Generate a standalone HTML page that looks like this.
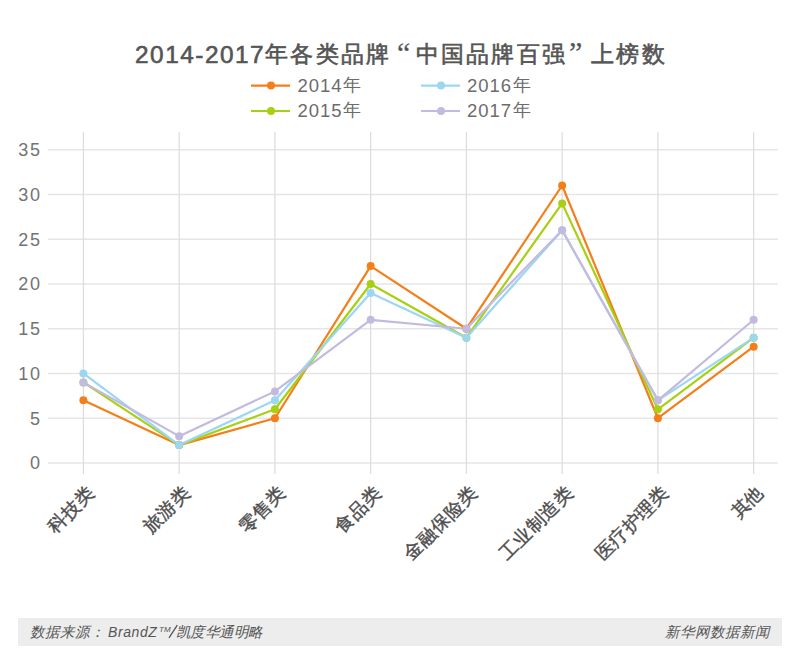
<!DOCTYPE html>
<html><head><meta charset="utf-8"><style>
html,body{margin:0;padding:0;background:#fff;width:800px;height:664px;overflow:hidden}
svg{position:absolute;left:0;top:0}
text{font-family:"Liberation Sans",sans-serif}
.title{font-size:23px;letter-spacing:2.3px;fill:#555;stroke:#555;stroke-width:0.6px}
.q{font-family:"Liberation Serif",serif;font-size:30px;stroke-width:0.2px}
.td{font-size:24.4px;letter-spacing:1.5px}
.yl{font-size:18px;fill:#737373;letter-spacing:1.6px}
.lg{font-size:18px;fill:#6c6c6c}
.lgd{font-size:18.5px;letter-spacing:1.0px}
.xl{font-size:18.5px;fill:#4d4d4d;stroke:#4d4d4d;stroke-width:0.4px}
.ft{font-size:14.5px;fill:#555;font-style:italic}
.ft2{font-size:14.5px}
.br{font-size:14px;letter-spacing:0.6px}
.tm{font-size:8px}
</style></head><body>
<svg width="800" height="664" viewBox="0 0 800 664">
<text class="title"><tspan x="135" y="63" class="td">2014-2017</tspan><tspan x="265" y="62">年各类品牌</tspan><tspan x="397" y="63" class="q">“</tspan><tspan x="415.5" y="62">中国品牌百强</tspan><tspan x="569" y="62" class="q">”</tspan><tspan x="591" y="62">上榜数</tspan></text>
<line x1="48" y1="463.00" x2="778" y2="463.00" stroke="#e6e6e6" stroke-width="1.6"/>
<line x1="48" y1="418.24" x2="778" y2="418.24" stroke="#e6e6e6" stroke-width="1.6"/>
<line x1="48" y1="373.49" x2="778" y2="373.49" stroke="#e6e6e6" stroke-width="1.6"/>
<line x1="48" y1="328.73" x2="778" y2="328.73" stroke="#e6e6e6" stroke-width="1.6"/>
<line x1="48" y1="283.97" x2="778" y2="283.97" stroke="#e6e6e6" stroke-width="1.6"/>
<line x1="48" y1="239.21" x2="778" y2="239.21" stroke="#e6e6e6" stroke-width="1.6"/>
<line x1="48" y1="194.46" x2="778" y2="194.46" stroke="#e6e6e6" stroke-width="1.6"/>
<line x1="48" y1="149.70" x2="778" y2="149.70" stroke="#e6e6e6" stroke-width="1.6"/>
<line x1="83.40" y1="132" x2="83.40" y2="474" stroke="#dcdcdc" stroke-width="1.2"/>
<line x1="179.15" y1="132" x2="179.15" y2="474" stroke="#dcdcdc" stroke-width="1.2"/>
<line x1="274.90" y1="132" x2="274.90" y2="474" stroke="#dcdcdc" stroke-width="1.2"/>
<line x1="370.65" y1="132" x2="370.65" y2="474" stroke="#dcdcdc" stroke-width="1.2"/>
<line x1="466.40" y1="132" x2="466.40" y2="474" stroke="#dcdcdc" stroke-width="1.2"/>
<line x1="562.15" y1="132" x2="562.15" y2="474" stroke="#dcdcdc" stroke-width="1.2"/>
<line x1="657.90" y1="132" x2="657.90" y2="474" stroke="#dcdcdc" stroke-width="1.2"/>
<line x1="753.65" y1="132" x2="753.65" y2="474" stroke="#dcdcdc" stroke-width="1.2"/>
<text x="41.5" y="469.40" text-anchor="end" class="yl">0</text>
<text x="41.5" y="424.64" text-anchor="end" class="yl">5</text>
<text x="41.5" y="379.89" text-anchor="end" class="yl">10</text>
<text x="41.5" y="335.13" text-anchor="end" class="yl">15</text>
<text x="41.5" y="290.37" text-anchor="end" class="yl">20</text>
<text x="41.5" y="245.61" text-anchor="end" class="yl">25</text>
<text x="41.5" y="200.86" text-anchor="end" class="yl">30</text>
<text x="41.5" y="156.10" text-anchor="end" class="yl">35</text>
<polyline points="83.40,400.34 179.15,445.10 274.90,418.24 370.65,266.07 466.40,328.73 562.15,185.51 657.90,418.24 753.65,346.63" fill="none" stroke="#f47f1a" stroke-width="2.2" stroke-linejoin="round"/>
<polyline points="83.40,382.44 179.15,445.10 274.90,409.29 370.65,283.97 466.40,337.68 562.15,203.41 657.90,409.29 753.65,337.68" fill="none" stroke="#a8d012" stroke-width="2.2" stroke-linejoin="round"/>
<polyline points="83.40,373.49 179.15,445.10 274.90,400.34 370.65,292.92 466.40,337.68 562.15,230.26 657.90,400.34 753.65,337.68" fill="none" stroke="#9cd7f1" stroke-width="2.2" stroke-linejoin="round"/>
<polyline points="83.40,382.44 179.15,436.15 274.90,391.39 370.65,319.78 466.40,328.73 562.15,230.26 657.90,400.34 753.65,319.78" fill="none" stroke="#c3bae0" stroke-width="2.2" stroke-linejoin="round"/>
<circle cx="83.40" cy="400.34" r="4" fill="#f47f1a"/>
<circle cx="179.15" cy="445.10" r="4" fill="#f47f1a"/>
<circle cx="274.90" cy="418.24" r="4" fill="#f47f1a"/>
<circle cx="370.65" cy="266.07" r="4" fill="#f47f1a"/>
<circle cx="466.40" cy="328.73" r="4" fill="#f47f1a"/>
<circle cx="562.15" cy="185.51" r="4" fill="#f47f1a"/>
<circle cx="657.90" cy="418.24" r="4" fill="#f47f1a"/>
<circle cx="753.65" cy="346.63" r="4" fill="#f47f1a"/>
<circle cx="83.40" cy="382.44" r="4" fill="#a8d012"/>
<circle cx="179.15" cy="445.10" r="4" fill="#a8d012"/>
<circle cx="274.90" cy="409.29" r="4" fill="#a8d012"/>
<circle cx="370.65" cy="283.97" r="4" fill="#a8d012"/>
<circle cx="466.40" cy="337.68" r="4" fill="#a8d012"/>
<circle cx="562.15" cy="203.41" r="4" fill="#a8d012"/>
<circle cx="657.90" cy="409.29" r="4" fill="#a8d012"/>
<circle cx="753.65" cy="337.68" r="4" fill="#a8d012"/>
<circle cx="83.40" cy="373.49" r="4" fill="#9cd7f1"/>
<circle cx="179.15" cy="445.10" r="4" fill="#9cd7f1"/>
<circle cx="274.90" cy="400.34" r="4" fill="#9cd7f1"/>
<circle cx="370.65" cy="292.92" r="4" fill="#9cd7f1"/>
<circle cx="466.40" cy="337.68" r="4" fill="#9cd7f1"/>
<circle cx="562.15" cy="230.26" r="4" fill="#9cd7f1"/>
<circle cx="657.90" cy="400.34" r="4" fill="#9cd7f1"/>
<circle cx="753.65" cy="337.68" r="4" fill="#9cd7f1"/>
<circle cx="83.40" cy="382.44" r="4" fill="#c3bae0"/>
<circle cx="179.15" cy="436.15" r="4" fill="#c3bae0"/>
<circle cx="274.90" cy="391.39" r="4" fill="#c3bae0"/>
<circle cx="370.65" cy="319.78" r="4" fill="#c3bae0"/>
<circle cx="466.40" cy="328.73" r="4" fill="#c3bae0"/>
<circle cx="562.15" cy="230.26" r="4" fill="#c3bae0"/>
<circle cx="657.90" cy="400.34" r="4" fill="#c3bae0"/>
<circle cx="753.65" cy="319.78" r="4" fill="#c3bae0"/>
<text transform="translate(95.40,494) rotate(-45)" text-anchor="end" class="xl">科技类</text>
<text transform="translate(191.15,494) rotate(-45)" text-anchor="end" class="xl">旅游类</text>
<text transform="translate(286.90,494) rotate(-45)" text-anchor="end" class="xl">零售类</text>
<text transform="translate(382.65,494) rotate(-45)" text-anchor="end" class="xl">食品类</text>
<text transform="translate(478.40,494) rotate(-45)" text-anchor="end" class="xl">金融保险类</text>
<text transform="translate(574.15,494) rotate(-45)" text-anchor="end" class="xl">工业制造类</text>
<text transform="translate(669.90,494) rotate(-45)" text-anchor="end" class="xl">医疗护理类</text>
<text transform="translate(764.15,494) rotate(-45)" text-anchor="end" class="xl" style="font-size:18px">其他</text>
<line x1="251" y1="85.6" x2="290" y2="85.6" stroke="#f47f1a" stroke-width="2.2"/>
<circle cx="271" cy="85.6" r="4" fill="#f47f1a"/>
<text x="297.5" y="91.6" class="lg"><tspan class="lgd">2014</tspan><tspan dx="0.6" dy="-1">年</tspan></text>
<line x1="251" y1="111" x2="290" y2="111" stroke="#a8d012" stroke-width="2.2"/>
<circle cx="271" cy="111" r="4" fill="#a8d012"/>
<text x="297.5" y="117" class="lg"><tspan class="lgd">2015</tspan><tspan dx="0.6" dy="-1">年</tspan></text>
<line x1="421" y1="85.6" x2="460" y2="85.6" stroke="#9cd7f1" stroke-width="2.2"/>
<circle cx="441" cy="85.6" r="4" fill="#9cd7f1"/>
<text x="467" y="91.6" class="lg"><tspan class="lgd">2016</tspan><tspan dx="0.6" dy="-1">年</tspan></text>
<line x1="421" y1="111" x2="460" y2="111" stroke="#c3bae0" stroke-width="2.2"/>
<circle cx="441" cy="111" r="4" fill="#c3bae0"/>
<text x="467" y="117" class="lg"><tspan class="lgd">2017</tspan><tspan dx="0.6" dy="-1">年</tspan></text>
<rect x="18" y="618" width="764" height="28" fill="#ededed"/>
<text y="636.5" class="ft"><tspan x="30">数据来源：</tspan><tspan x="108" class="br">BrandZ</tspan><tspan x="159" y="632" class="tm">TM</tspan><tspan x="175.5" y="636.5" style="letter-spacing:-0.45px">凯度华通明略</tspan></text>
<line x1="169" y1="637.8" x2="177.3" y2="625.2" stroke="#555" stroke-width="1.3"/>
<text x="770" y="636.5" text-anchor="end" class="ft ft2">新华网数据新闻</text>
</svg>
</body></html>
